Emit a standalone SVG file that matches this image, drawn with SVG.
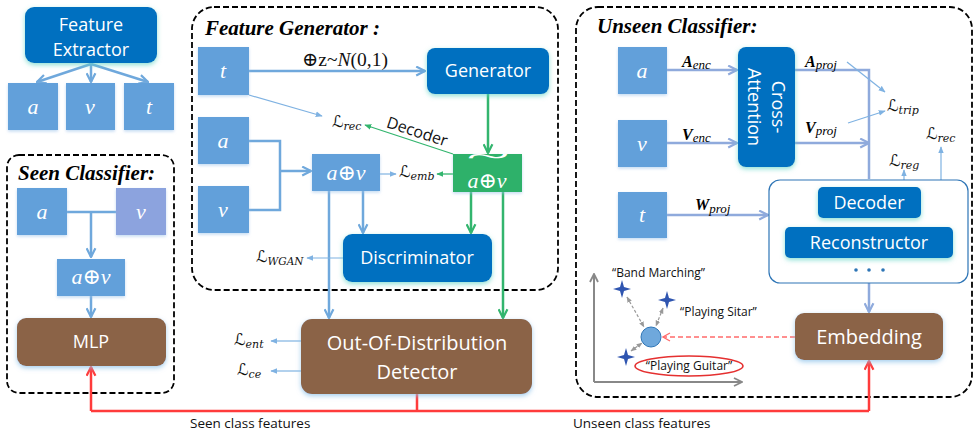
<svg xmlns="http://www.w3.org/2000/svg" width="980" height="431" viewBox="0 0 980 431">
<defs>
<style>
.sb{fill:#62A0DA}
.dk{fill:#0070C0}
.br{fill:#8B6447}
.t{font-family:"Open Sans","Liberation Sans",sans-serif;fill:#fff;text-anchor:middle}
.m{font-family:"Liberation Serif","DejaVu Serif",serif;font-style:italic;fill:#fff;font-size:22px;text-anchor:middle}
.L{font-family:"DejaVu Serif","DejaVu Sans",serif;font-style:italic;fill:#111;font-size:16px}
.bi{font-family:"Liberation Serif","DejaVu Serif",serif;font-style:italic;font-weight:bold;fill:#000}
.pn{fill:none;stroke:#000;stroke-width:1.8;stroke-dasharray:6 3}
.cb{fill:none;stroke:#6FA8DC;stroke-width:2.5}
.cl{fill:none;stroke:#8FAADC;stroke-width:2.5}
.cg{fill:none;stroke:#33B56E;stroke-width:2.5}
.cr{fill:none;stroke:#FF3B3B;stroke-width:2.5}
.th{fill:none;stroke:#7FB2E2;stroke-width:1.2}
.q{font-family:"Open Sans","Liberation Sans",sans-serif;fill:#111;font-size:12px}
.lab{font-family:"Open Sans","Liberation Sans",sans-serif;fill:#111;font-size:13.5px}
</style>
<filter id="gT" x="-20%" y="-30%" width="140%" height="170%"><feDropShadow dx="0" dy="2" stdDeviation="2.5" flood-color="#5FD3C4" flood-opacity="0.7"/></filter>
<filter id="gB" x="-20%" y="-30%" width="140%" height="170%"><feDropShadow dx="0" dy="2" stdDeviation="2.5" flood-color="#8FC3EA" flood-opacity="0.8"/></filter>
<filter id="gS" x="-20%" y="-30%" width="140%" height="170%"><feDropShadow dx="0" dy="1.5" stdDeviation="1.5" flood-color="#9CC3EA" flood-opacity="0.6"/></filter>
<marker id="ab" viewBox="0 0 10 10" refX="9" refY="5" markerWidth="11" markerHeight="11" markerUnits="userSpaceOnUse" orient="auto"><path d="M1,1 L9,5 L1,9" fill="none" stroke="#6FA8DC" stroke-width="2"/></marker>
<marker id="al" viewBox="0 0 10 10" refX="9" refY="5" markerWidth="11" markerHeight="11" markerUnits="userSpaceOnUse" orient="auto"><path d="M1,1 L9,5 L1,9" fill="none" stroke="#8FAADC" stroke-width="2"/></marker>
<marker id="ag" viewBox="0 0 10 10" refX="9" refY="5" markerWidth="11" markerHeight="11" markerUnits="userSpaceOnUse" orient="auto"><path d="M1,1 L9,5 L1,9" fill="none" stroke="#33B56E" stroke-width="2"/></marker>
<marker id="ar" viewBox="0 0 10 10" refX="9" refY="5" markerWidth="11" markerHeight="11" markerUnits="userSpaceOnUse" orient="auto"><path d="M1,1 L9,5 L1,9" fill="none" stroke="#FF3B3B" stroke-width="2"/></marker>
<marker id="ard" viewBox="0 0 10 10" refX="9" refY="5" markerWidth="10" markerHeight="10" markerUnits="userSpaceOnUse" orient="auto"><path d="M2,1 L9,5 L2,9" fill="none" stroke="#FF6B6B" stroke-width="1.3"/></marker>
<marker id="at" viewBox="0 0 10 10" refX="9" refY="5" markerWidth="7" markerHeight="7" markerUnits="userSpaceOnUse" orient="auto"><path d="M0,1 L10,5 L0,9 Z" fill="#7FB2E2"/></marker>
<marker id="atg" viewBox="0 0 10 10" refX="9" refY="5" markerWidth="7" markerHeight="7" markerUnits="userSpaceOnUse" orient="auto"><path d="M0,1 L10,5 L0,9 Z" fill="#33B56E"/></marker>
<marker id="agr" viewBox="0 0 10 10" refX="9" refY="5" markerWidth="10" markerHeight="10" markerUnits="userSpaceOnUse" orient="auto"><path d="M1,1 L9,5 L1,9" fill="none" stroke="#888" stroke-width="1.8"/></marker>
<marker id="agd" viewBox="0 0 10 10" refX="9" refY="5" markerWidth="6" markerHeight="6" markerUnits="userSpaceOnUse" orient="auto-start-reverse"><path d="M0,1 L10,5 L0,9 Z" fill="#999"/></marker>
<path id="star" d="M0,-9 L2,-2 L9,0 L2,2 L0,9 L-2,2 L-9,0 L-2,-2 Z"/>
</defs>
<rect width="980" height="431" fill="#fff"/>

<!-- panels -->
<g id="panel-seen"><rect class="pn" x="7" y="155" width="167" height="238" rx="12"/><text class="bi" x="18" y="180" font-size="21">Seen Classifier:</text></g>
<g id="panel-gen"><rect class="pn" x="192" y="7" width="366" height="283" rx="22"/><text class="bi" x="205" y="35" font-size="21">Feature Generator :</text></g>
<g id="panel-unseen"><rect class="pn" x="576" y="7" width="396" height="390" rx="22"/><text class="bi" x="597" y="33" font-size="21">Unseen Classifier:</text></g>

<!-- connectors -->
<g id="connectors">
<path class="cb" d="M91,64 L37,82" marker-end="url(#ab)"/>
<path class="cb" d="M91,64 L91,82" marker-end="url(#ab)"/>
<path class="cb" d="M91,64 L148,82" marker-end="url(#ab)"/>
<path class="cb" d="M67,212 H116 M91,212 V257" marker-end="url(#ab)"/>
<path class="cb" d="M91,296 V317" marker-end="url(#ab)"/>
<path class="cb" d="M249,71 H425" marker-end="url(#ab)"/>
<path class="cg" d="M488,94 V153" marker-end="url(#ag)"/>
<path class="th" d="M249,95 L322,116" marker-end="url(#at)"/>
<path fill="none" stroke="#33B56E" stroke-width="1.3" d="M453,154 L365,125" marker-end="url(#atg)"/>
<path class="cb" d="M249,141 H280 V210 H249"/>
<path class="cb" stroke-width="3" d="M280,171 H311" marker-end="url(#ab)"/>
<path class="th" d="M380,174 H396" marker-end="url(#at)"/>
<path fill="none" stroke="#33B56E" stroke-width="1.3" d="M453,174 H437" marker-end="url(#atg)"/>
<path class="cb" d="M329,191 V318" marker-end="url(#ab)"/>
<path class="cb" d="M363,191 V233" marker-end="url(#ab)"/>
<path class="cg" d="M471,192 V233" marker-end="url(#ag)"/>
<path class="cg" d="M503,192 V318" marker-end="url(#ag)"/>
<path class="th" d="M343,258 H307" marker-end="url(#at)"/>
<path class="th" d="M301,341 H271" marker-end="url(#at)"/>
<path class="th" d="M301,371 H271" marker-end="url(#at)"/>
<path class="cr" d="M417,394 V411 M91,411 H869"/>
<path class="cr" d="M91,411 V367" marker-end="url(#ar)"/>
<path class="cr" d="M869,411 V361" marker-end="url(#ar)"/>
<path class="cl" d="M667,70 H737" marker-end="url(#al)"/>
<path class="cl" d="M667,143 H737" marker-end="url(#al)"/>
<path class="cl" d="M795,70 H869 V179 M795,143 H869" marker-end="url(#al)"/>
<path class="cl" d="M667,215 H768" marker-end="url(#al)"/>
<path class="cl" d="M869,283 V312" marker-end="url(#al)"/>
<path class="th" d="M847,62 L885,92" marker-end="url(#at)"/>
<path class="th" d="M848,123 L885,111" marker-end="url(#at)"/>
<path class="th" d="M904,187 V170" marker-end="url(#at)"/>
<path class="th" d="M941,227 V147" marker-end="url(#at)"/>
<path fill="none" stroke="#FF6B6B" stroke-width="1.3" stroke-dasharray="5 3" d="M795,337 H663" marker-end="url(#ard)"/>
<path fill="none" stroke="#888" stroke-width="2" d="M594,382 V274" marker-end="url(#agr)"/>
<path fill="none" stroke="#888" stroke-width="2" d="M594,382 H742" marker-end="url(#agr)"/>
<path fill="none" stroke="#999" stroke-width="1.2" stroke-dasharray="3 2" d="M627,297 L644,327" marker-start="url(#agd)" marker-end="url(#agd)"/>
<path fill="none" stroke="#999" stroke-width="1.2" stroke-dasharray="3 2" d="M663,308 L656,326" marker-start="url(#agd)" marker-end="url(#agd)"/>
<path fill="none" stroke="#999" stroke-width="1.2" stroke-dasharray="3 2" d="M631,351 L642,343" marker-start="url(#agd)" marker-end="url(#agd)"/>
</g>

<!-- Feature extractor -->
<g id="feature-extractor"><rect class="dk" x="25" y="7" width="132" height="56" rx="9" filter="url(#gT)"/><text class="t" font-size="18" x="91" y="31">Feature</text><text class="t" font-size="18" x="91" y="56">Extractor</text></g>
<g id="fe-a"><rect class="sb" x="8" y="83" width="50" height="47" filter="url(#gS)"/><text class="m" x="33" y="114">a</text></g>
<g id="fe-v"><rect class="sb" x="66" y="83" width="49" height="47" filter="url(#gS)"/><text class="m" x="90" y="114">v</text></g>
<g id="fe-t"><rect class="sb" x="124" y="83" width="50" height="47" filter="url(#gS)"/><text class="m" x="149" y="114">t</text></g>

<!-- Seen classifier -->
<g id="sc-a"><rect class="sb" x="17" y="188" width="50" height="47" filter="url(#gS)"/><text class="m" x="42" y="219">a</text></g>
<g id="sc-v"><rect fill="#8CA3DE" x="116" y="188" width="50" height="47" filter="url(#gS)"/><text class="m" x="141" y="219">v</text></g>
<g id="sc-av"><rect class="sb" x="57" y="259" width="68" height="37" filter="url(#gS)"/><text class="m" x="91" y="284">a⊕v</text></g>
<g id="mlp"><rect class="br" x="17" y="318" width="149" height="48" rx="9" filter="url(#gB)"/><text class="t" font-size="18" x="91" y="348">MLP</text></g>

<!-- Feature generator -->
<g id="fg-t"><rect class="sb" x="198" y="47" width="51" height="48" filter="url(#gS)"/><text class="m" x="223" y="78">t</text></g>
<g id="noise-label"><text font-family="Liberation Serif,DejaVu Serif,serif" font-size="19.5" fill="#111" x="345" y="66" text-anchor="middle">⊕z~<tspan font-style="italic">N</tspan>(0,1)</text></g>
<g id="generator"><rect class="dk" x="427" y="48" width="122" height="46" rx="8" filter="url(#gT)"/><text class="t" font-size="18" x="488" y="77">Generator</text></g>
<g id="fg-lrec"><text class="L" x="332" y="127">ℒ<tspan font-size="11" dy="3">rec</tspan></text></g>
<g id="decoder-label"><text font-family="Open Sans,Liberation Sans,sans-serif" font-size="16" fill="#111" text-anchor="middle" transform="translate(417,132) rotate(18.2)" y="5">Decoder</text></g>
<g id="fg-a"><rect class="sb" x="198" y="117" width="51" height="47" filter="url(#gS)"/><text class="m" x="223" y="148">a</text></g>
<g id="fg-v"><rect class="sb" x="198" y="186" width="51" height="47" filter="url(#gS)"/><text class="m" x="223" y="217">v</text></g>
<g id="fg-av"><rect class="sb" x="312" y="154" width="68" height="37" filter="url(#gS)"/><text class="m" x="346" y="180">a⊕v</text></g>
<g id="fg-lemb"><text class="L" x="399" y="177">ℒ<tspan font-size="11" dy="3">emb</tspan></text></g>
<g id="fg-gen-av"><rect fill="#2DB16A" x="453" y="154" width="69" height="38" filter="url(#gS)"/><text class="m" x="487" y="188">a⊕v</text><text class="m" font-style="normal" font-size="16" transform="translate(487,164) scale(3.6,1)">~</text></g>
<g id="discriminator"><rect class="dk" x="343" y="234" width="149" height="48" rx="9" filter="url(#gT)"/><text class="t" font-size="18" x="417" y="264">Discriminator</text></g>
<g id="fg-lwgan"><text class="L" x="256" y="262">ℒ<tspan font-size="10.5" dy="3">WGAN</tspan></text></g>

<!-- OOD -->
<g id="ood"><rect class="br" x="301" y="319" width="231" height="75" rx="11" filter="url(#gB)"/><text class="t" font-size="20" x="417" y="350">Out-Of-Distribution</text><text class="t" font-size="20" x="417" y="379">Detector</text></g>
<g id="l-ent"><text class="L" x="234" y="345">ℒ<tspan font-size="11" dy="3">ent</tspan></text></g>
<g id="l-ce"><text class="L" x="237" y="375">ℒ<tspan font-size="11" dy="3">ce</tspan></text></g>
<g id="feat-labels"><text class="lab" x="190" y="428">Seen class features</text><text class="lab" x="573" y="428">Unseen class features</text></g>

<!-- Unseen classifier -->
<g id="uc-a"><rect class="sb" x="618" y="47" width="49" height="47" filter="url(#gS)"/><text class="m" x="642" y="78">a</text></g>
<g id="uc-v"><rect class="sb" x="618" y="120" width="49" height="47" filter="url(#gS)"/><text class="m" x="642" y="151">v</text></g>
<g id="uc-t"><rect class="sb" x="618" y="192" width="49" height="46" filter="url(#gS)"/><text class="m" x="642" y="222">t</text></g>
<g id="enc-labels"><text class="bi" font-size="16" x="682" y="67">A<tspan font-size="13" font-weight="normal" dy="2">enc</tspan></text><text class="bi" font-size="16" x="682" y="140">V<tspan font-size="13" font-weight="normal" dy="2">enc</tspan></text><text class="bi" font-size="16" x="805" y="67">A<tspan font-size="13" font-weight="normal" dy="2">proj</tspan></text><text class="bi" font-size="16" x="805" y="133">V<tspan font-size="13" font-weight="normal" dy="2">proj</tspan></text><text class="bi" font-size="16" x="695" y="210">W<tspan font-size="13" font-weight="normal" dy="3">proj</tspan></text></g>
<g id="cross-attention"><rect class="dk" x="738" y="47" width="57" height="120" rx="8" filter="url(#gT)"/><g transform="translate(766.5,107) rotate(90)"><text class="t" font-size="18" x="0" y="-5">Cross-</text><text class="t" font-size="18" x="0" y="19">Attention</text></g></g>
<g id="l-trip"><text class="L" x="887" y="111">ℒ<tspan font-size="11" dy="3">trip</tspan></text></g>
<g id="l-rec2"><text class="L" x="926" y="139">ℒ<tspan font-size="11" dy="3">rec</tspan></text></g>
<g id="l-reg"><text class="L" x="889" y="166">ℒ<tspan font-size="11" dy="3">reg</tspan></text></g>
<g id="recon-container"><rect x="769" y="180" width="199" height="103" rx="11" fill="#fff" stroke="#2E75B6" stroke-width="1.2"/><circle cx="856" cy="270" r="1.8" fill="#2E75B6"/><circle cx="869" cy="270" r="1.8" fill="#2E75B6"/><circle cx="883" cy="270" r="1.8" fill="#2E75B6"/></g>
<g id="decoder"><rect class="dk" x="818" y="187" width="103" height="31" rx="5" filter="url(#gT)"/><text class="t" font-size="18" x="869" y="209">Decoder</text></g>
<g id="reconstructor"><rect class="dk" x="785" y="227" width="168" height="31" rx="5" filter="url(#gT)"/><text class="t" font-size="18" x="869" y="249">Reconstructor</text></g>
<g id="embedding"><rect class="br" x="795" y="313" width="148" height="47" rx="9" filter="url(#gB)"/><text class="t" font-size="20" x="869" y="344">Embedding</text></g>
<g id="scatter">
<use href="#star" x="622" y="289" fill="#2F55B0"/>
<use href="#star" x="667" y="300" fill="#2F55B0"/>
<use href="#star" x="626" y="357" fill="#2F55B0"/>
<circle cx="651" cy="337" r="10" fill="#6FA8DC" stroke="#2E75B6" stroke-width="1"/>
<text class="q" x="612" y="277">“Band Marching”</text>
<text class="q" x="680" y="316">“Playing Sitar”</text>
<ellipse cx="689" cy="366" rx="54" ry="10" fill="none" stroke="#E53030" stroke-width="1.5"/>
<text class="q" x="689" y="370" text-anchor="middle">“Playing Guitar”</text>
</g>
</svg>
